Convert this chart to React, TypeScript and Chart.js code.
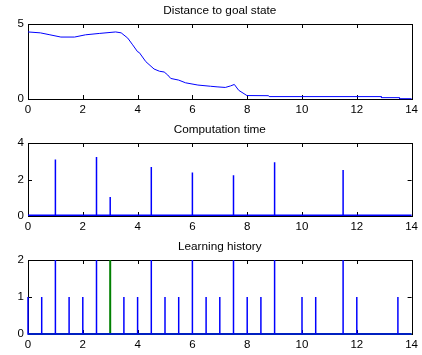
import React, { useEffect, useRef } from "react";
import { Chart, registerables } from "chart.js";
Chart.register(...registerables);

// ---- data ----
const xTicks = [0, 2, 4, 6, 8, 10, 12, 14];

const distX = [0, 0.45, 0.8, 1.2, 1.7, 2.1, 2.6, 3.2, 3.4, 3.64, 3.82, 4.0, 4.06, 4.3, 4.6, 4.8, 4.97, 5.1, 5.21, 5.5, 5.75, 6.2, 6.66, 6.9, 7.2, 7.39, 7.53, 7.69, 7.99, 8.78, 8.8, 12.89, 12.9, 13.55, 13.56, 14];
const distY = [4.47, 4.41, 4.28, 4.13, 4.13, 4.28, 4.37, 4.47, 4.41, 4.06, 3.61, 3.15, 3.1, 2.49, 2.0, 1.85, 1.8, 1.6, 1.37, 1.26, 1.08, 0.93, 0.85, 0.81, 0.77, 0.87, 0.97, 0.58, 0.23, 0.22, 0.16, 0.16, 0.09, 0.09, 0.02, 0.02];
const distTicks = [0, 5];

const compX = [1, 2.5, 3, 4.5, 6, 7.5, 9, 11.5];
const compY = [3.09, 3.23, 1.04, 2.69, 2.38, 2.23, 2.94, 2.52];
const compBase = 0.04;
const compTicks = [0, 2, 4];

const learnOneX = [0, 0.5, 1.5, 2, 3.5, 4, 5, 5.5, 6.5, 7, 8, 8.5, 10, 10.5, 12, 13.5];
const learnTwoX = [1, 2.5, 4.5, 6, 7.5, 9, 11.5];
const learnGreenX = [3];
const learnGreenY = [2];
const learnTicks = [0, 1, 2];

const titles = ["Distance to goal state", "Computation time", "Learning history"];

// ---- helpers ----
const FONT = "'Liberation Sans', Arial, Helvetica, sans-serif";
const BLUE = "#0000ff";
const GREEN = "#008000";

function spikes(xs: number[], ys: number[], base: number, xmin: number, xmax: number) {
  const order = xs.map((x, i) => [x, ys[i]]).sort((a, b) => a[0] - b[0]);
  const pts: { x: number; y: number }[] = [{ x: xmin, y: base }];
  for (const [x, y] of order) {
    pts.push({ x, y: base }, { x, y }, { x, y: base });
  }
  pts.push({ x: xmax, y: base });
  return pts;
}

function boxPlugin(title: string, yTicks: number[]) {
  return {
    id: "box" + title.replace(/\s/g, ""),
    beforeDatasetsDraw(chart: any) {
      const { ctx, chartArea } = chart;
      const { left, right, top, bottom } = chartArea;
      const xs = chart.scales.x;
      const ys = chart.scales.y;
      ctx.save();
      ctx.strokeStyle = "#000";
      ctx.lineWidth = 1;
      ctx.strokeRect(Math.round(left) + 0.5, Math.round(top) + 0.5, Math.round(right - left), Math.round(bottom - top));
      ctx.beginPath();
      for (const v of xTicks) {
        const p = Math.round(xs.getPixelForValue(v)) + 0.5;
        ctx.moveTo(p, bottom);
        ctx.lineTo(p, bottom - 4);
        ctx.moveTo(p, top);
        ctx.lineTo(p, top + 4);
      }
      for (const v of yTicks) {
        const p = Math.round(ys.getPixelForValue(v)) + 0.5;
        ctx.moveTo(left, p);
        ctx.lineTo(left + 4, p);
        ctx.moveTo(right, p);
        ctx.lineTo(right - 4, p);
      }
      ctx.stroke();
      ctx.fillStyle = "#000";
      ctx.font = "11.75px " + FONT;
      ctx.textAlign = "center";
      ctx.textBaseline = "middle";
      ctx.fillText(title, (left + right) / 2, top - 13);
      ctx.restore();
    },
  };
}

type Panel = {
  canvasTop: number;
  height: number;
  areaTop: number;
  areaBottom: number;
  yMax: number;
  yTicks: number[];
  title: string;
  datasets: any[];
};

const W = 422;
const AREA_LEFT = 28;
const AREA_RIGHT = 414;

function makeConfig(p: Panel): any {
  const xAxisH = p.canvasTop + p.height - p.areaBottom;
  return {
    type: "line",
    data: { datasets: p.datasets },
    options: {
      animation: false,
      responsive: false,
      maintainAspectRatio: false,
      layout: { padding: { top: p.areaTop - p.canvasTop, right: W - AREA_RIGHT, left: 0, bottom: 0 } },
      plugins: { legend: { display: false }, title: { display: false }, tooltip: { enabled: false } },
      elements: { point: { radius: 0 }, line: { tension: 0 } },
      scales: {
        x: {
          type: "linear",
          min: 0,
          max: 14,
          grid: { display: false, drawTicks: false },
          border: { display: false },
          afterBuildTicks: (s: any) => {
            s.ticks = xTicks.map((v) => ({ value: v }));
          },
          afterFit: (s: any) => {
            s.height = xAxisH;
          },
          ticks: { color: "#000", font: { family: FONT, size: 11.5 }, padding: 4, maxRotation: 0, autoSkip: false },
        },
        y: {
          type: "linear",
          min: 0,
          max: p.yMax,
          grid: { display: false, drawTicks: false },
          border: { display: false },
          afterBuildTicks: (s: any) => {
            s.ticks = p.yTicks.map((v) => ({ value: v }));
          },
          afterFit: (s: any) => {
            s.width = AREA_LEFT;
          },
          ticks: { color: "#000", font: { family: FONT, size: 11.5 }, padding: 4, autoSkip: false },
        },
      },
    },
    plugins: [boxPlugin(p.title, p.yTicks)],
  };
}

const panels: Panel[] = [
  {
    canvasTop: 0,
    height: 116,
    areaTop: 24,
    areaBottom: 99,
    yMax: 5,
    yTicks: distTicks,
    title: titles[0],
    datasets: [
      {
        data: distX.map((x, i) => ({ x, y: distY[i] })),
        borderColor: BLUE,
        borderWidth: 1,
        pointRadius: 0,
        fill: false,
        clip: 3,
      },
    ],
  },
  {
    canvasTop: 116,
    height: 116,
    areaTop: 143,
    areaBottom: 216,
    yMax: 4,
    yTicks: compTicks,
    title: titles[1],
    datasets: [
      {
        data: spikes(compX, compY, compBase, 0, 14),
        borderColor: BLUE,
        borderWidth: 1.5,
        pointRadius: 0,
        fill: false,
        clip: 3,
      },
    ],
  },
  {
    canvasTop: 232,
    height: 123,
    areaTop: 260,
    areaBottom: 334,
    yMax: 2,
    yTicks: learnTicks,
    title: titles[2],
    datasets: [
      {
        data: spikes(
          [...learnOneX, ...learnTwoX],
          [...learnOneX.map(() => 1), ...learnTwoX.map(() => 2)],
          0,
          0,
          14
        ),
        borderColor: BLUE,
        borderWidth: 1.5,
        pointRadius: 0,
        fill: false,
        clip: 3,
      },
      {
        data: spikes(learnGreenX, learnGreenY, 0, 0, 14),
        borderColor: GREEN,
        borderWidth: 2,
        pointRadius: 0,
        fill: false,
        clip: 3,
      },
    ],
  },
];

function PanelChart({ p }: { p: Panel }) {
  const ref = useRef<HTMLCanvasElement | null>(null);
  useEffect(() => {
    if (!ref.current) return;
    const chart = new Chart(ref.current, makeConfig(p));
    return () => chart.destroy();
  }, [p]);
  return (
    <canvas
      ref={ref}
      width={W}
      height={p.height}
      style={{ position: "absolute", left: 0, top: p.canvasTop, width: W, height: p.height, display: "block" }}
    />
  );
}

export default function App() {
  return (
    <div style={{ position: "absolute", left: 0, top: 0, width: W, height: 355, background: "#fff" }}>
      {panels.map((p, i) => (
        <PanelChart key={i} p={p} />
      ))}
    </div>
  );
}
